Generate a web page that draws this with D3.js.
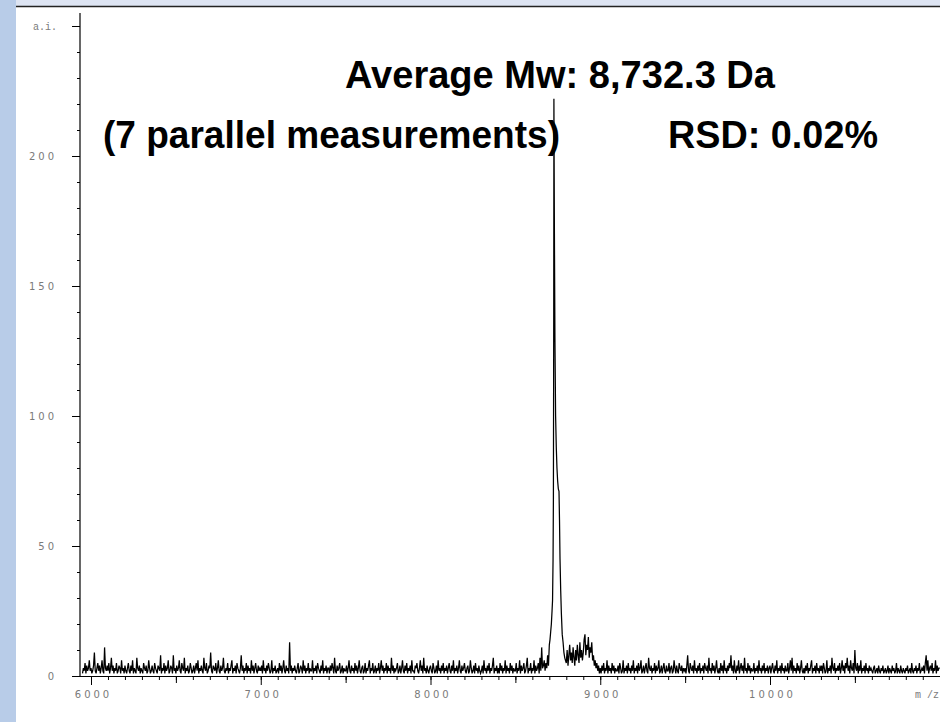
<!DOCTYPE html>
<html>
<head>
<meta charset="utf-8">
<script src="https://cdn.jsdelivr.net/npm/d3@7"></script>
<style>
  body { margin: 0; background: #ffffff; }
  svg { display: block; }
  .tick text { font-family: 'DejaVu Sans', sans-serif; font-size: 10px; fill: #7a7a7a; letter-spacing: 3px; }
  .heading { font-family: 'Liberation Sans', Arial, sans-serif; font-weight: bold; font-size: 38px; fill: #000; }
</style>
</head>
<body>
<svg width="940" height="722"></svg>
<script>
// spectrum data: baseline noise on a 5 Da grid, peak region with explicit m/z
var noiseAStart = 5950;
var noiseAStep = 5;
var noiseA = [
    1,3,2,5,1,4,2,3,6,2,
    3,1,2,4,9,2,1,3,5,2,4,1,3,6,2,1,11,3,2,4,
    2,5,1,3,7,2,4,1,3,2,5,1,2,4,3,1,6,2,3,1,
    4,2,1,3,5,2,1,4,2,6,1,3,2,1,7,3,2,4,1,3,
    2,1,5,3,2,4,1,2,6,3,1,2,4,2,1,5,3,2,1,4,
    3,2,8,1,3,2,5,1,4,2,3,6,1,2,4,3,1,8,2,3,
    1,4,2,3,6,2,1,5,3,2,7,1,3,2,4,1,2,5,3,1,
    2,4,1,3,5,2,6,1,3,2,4,2,1,7,3,2,5,1,2,4,
    3,9,2,1,4,3,2,5,1,3,6,2,1,4,2,3,7,2,1,3,
    2,5,1,3,2,4,6,1,3,2,4,1,5,3,2,1,3,8,2,4,
    1,3,2,5,1,4,2,3,1,6,2,4,1,3,5,2,1,4,2,3,
    2,4,1,6,2,3,1,4,2,5,3,1,2,6,1,3,2,4,1,2,
    3,1,5,2,4,1,3,6,2,1,4,2,3,1,13,2,4,1,3,2,
    4,2,1,3,5,1,2,4,3,1,6,2,4,1,3,2,5,1,3,2,
    2,6,1,3,2,4,1,5,3,2,1,4,2,6,1,3,2,4,1,3,
    3,1,4,2,5,3,1,7,2,1,4,2,3,5,1,2,4,1,3,2,
    2,4,1,3,6,2,1,4,2,3,1,5,2,4,1,3,6,2,1,3,
    4,1,2,5,1,3,2,4,6,1,3,2,5,1,2,4,1,3,2,5,
    1,3,6,2,4,1,3,2,5,1,4,2,3,1,7,2,4,1,3,2,
    3,5,1,2,4,1,3,6,2,1,4,2,5,1,3,2,4,1,6,2,
    2,1,4,3,5,2,1,3,6,2,4,1,7,2,3,1,4,2,1,3,
    4,2,1,5,3,1,2,4,1,6,2,3,1,4,2,5,1,3,2,4,
    1,3,5,2,1,4,2,6,1,3,2,4,1,3,6,2,1,4,2,3,
    5,2,1,3,4,1,2,6,3,1,2,4,1,5,2,3,1,4,2,1,
    2,4,1,6,2,3,1,4,2,5,1,3,2,4,7,1,3,2,4,1,
    3,1,5,2,4,1,3,2,6,1,4,2,3,1,5,2,4,1,3,2,
    2,5,1,3,2,6,1,4,2,3,5,1,2,4,7,1,3,2,5,1,
    3,2,6,1,4,2,3,5,1,7,2,11,3,4,6,2,5,3,8,4
];

var peakMz = [8700, 8704, 8708, 8712, 8716, 8719, 8722, 8724, 8726, 8727, 8730, 8733, 8737, 8741, 8745, 8749, 8753, 8757, 8760, 8763, 8767, 8771, 8776, 8781, 8786, 8791];
var peakAi = [12, 14, 17, 20, 25, 29, 45, 68, 140, 222, 170, 130, 100, 88, 80, 75, 72, 71, 60, 45, 33, 24, 16, 13, 9, 7];

var noiseBStart = 8795;
var noiseBStep = 5;
var noiseB = [
    6,
    5,10,4,8,12,6,9,5,11,7,4,10,6,12,8,5,13,7,10,6,
    9,14,16,8,12,10,15,7,11,9,13,6,8,4,6,3,5,2,4,1,
    3,1,4,2,5,1,3,2,6,1,4,2,3,1,5,2,4,1,3,2,
    2,4,1,5,3,1,2,6,1,3,2,4,1,5,2,3,1,4,2,6,
    1,3,2,4,1,5,2,3,6,1,2,4,1,3,5,2,1,7,3,2,
    4,1,3,2,5,1,4,2,3,6,1,2,4,1,3,5,2,1,4,2,
    2,5,1,3,4,1,2,6,3,1,4,2,1,5,3,2,4,1,3,2,
    3,1,4,8,2,1,5,3,2,4,1,6,2,3,1,4,2,5,1,3,
    2,4,1,5,3,2,4,1,7,2,3,1,5,2,4,1,3,6,2,1,
    3,1,5,2,4,1,6,2,3,1,4,2,5,3,8,2,4,1,6,2,
    1,4,2,6,1,3,5,2,4,1,7,2,3,1,5,2,4,1,3,2,
    2,5,1,3,2,4,1,6,2,3,1,4,2,5,1,3,2,4,1,3,
    4,1,3,5,2,1,4,2,6,1,3,2,4,1,5,2,3,1,4,2,
    2,5,1,3,6,2,7,1,4,2,3,1,5,2,4,1,3,6,2,1,
    3,1,4,2,5,1,3,2,4,6,1,3,2,4,1,5,2,3,1,4,
    2,4,1,5,3,1,2,6,1,3,2,4,1,7,3,2,5,1,3,2,
    4,2,5,1,3,6,2,4,1,5,3,7,2,4,1,6,3,2,5,1,
    10,3,2,5,1,4,2,6,1,3,2,4,1,5,2,3,1,4,2,3,
    2,1,3,4,1,2,3,1,4,2,1,3,2,4,1,2,3,1,2,4,
    1,3,2,1,4,2,3,1,2,5,1,3,2,1,4,2,1,3,2,1,
    3,2,4,1,2,3,1,5,2,1,3,2,4,1,3,2,5,1,2,3,
    2,4,1,5,8,2,6,1,3,4,2,5,1,3,2,6,1,4,2,3,
    3
];

var yMajor = [0, 50, 100, 150, 200, 250];
var xMajor = [6000, 7000, 8000, 9000, 10000];

var svg = d3.select('svg');
var svgWidth = +svg.attr('width');
var svgHeight = +svg.attr('height');

// frame around the plot window
svg.append('rect').attr('x', 0).attr('y', 0).attr('width', svgWidth).attr('height', svgHeight).style('fill', '#ffffff');
svg.append('rect').attr('x', 0).attr('y', 0).attr('width', svgWidth).attr('height', 6).style('fill', '#dde4f2');
svg.append('rect').attr('x', 0).attr('y', 0).attr('width', 16).attr('height', svgHeight).style('fill', '#b8cce8');
svg.append('line').attr('x1', 16).attr('x2', svgWidth).attr('y1', 6.5).attr('y2', 6.5)
    .style('stroke', '#222').style('stroke-width', 1.5);

var x = d3.scaleLinear().domain([6000, 10000]).range([91, 770]);
var y = d3.scaleLinear().domain([0, 250]).range([676, 26]);

// build the points
var pts = [];
noiseA.forEach(function(v, i){ pts.push([noiseAStart + i*noiseAStep, v]); });
pts = pts.filter(function(p){ return p[0] < peakMz[0]; });
peakMz.forEach(function(m, i){ pts.push([m, peakAi[i]]); });
noiseB.forEach(function(v, i){ pts.push([noiseBStart + i*noiseBStep, v]); });

// y axis
var yAxisMinor = d3.axisLeft(y).tickValues(d3.range(0, 251, 10)).tickSize(3).tickFormat('');
var yAxisMajor = d3.axisLeft(y).tickValues(yMajor).tickSize(8).tickPadding(15)
    .tickFormat(function(d){ return d === 250 ? '' : d; });

svg.append('g').attr('transform', 'translate(80,0)').call(yAxisMinor)
    .call(function(g){ g.select('.domain').remove(); });
var gy = svg.append('g').attr('transform', 'translate(80,0)').call(yAxisMajor);
gy.select('.domain').remove();
svg.append('line').attr('x1', 80).attr('x2', 80).attr('y1', 13).attr('y2', 676.5)
    .style('stroke', '#000').style('stroke-width', 1.2);

svg.append('text')
    .attr('x', 33).attr('y', y(250) + 4)
    .style('font-family', "'Liberation Mono', monospace")
    .style('font-size', '10px')
    .style('fill', '#7a7a7a')
    .text('a.i.');

// x axis
var xAxisMinor = d3.axisBottom(x).tickValues(d3.range(6000, 11000, 100)).tickSize(4).tickFormat('');
var xAxisMid = d3.axisBottom(x).tickValues(d3.range(6500, 11000, 1000)).tickSize(7).tickFormat('');
var xAxisMajor = d3.axisBottom(x).tickValues(xMajor).tickSize(9).tickPadding(6).tickFormat(function(d){ return d; });

[xAxisMinor, xAxisMid].forEach(function(ax){
    svg.append('g').attr('transform', 'translate(0,676)').call(ax)
        .call(function(g){ g.select('.domain').remove(); });
});
var gx = svg.append('g').attr('transform', 'translate(0,676)').call(xAxisMajor);
gx.select('.domain').remove();
gx.selectAll('.tick text').attr('dx', '2px');
svg.append('line').attr('x1', 72).attr('x2', svgWidth).attr('y1', 676.5).attr('y2', 676.5)
    .style('stroke', '#000').style('stroke-width', 1.2);

svg.append('text')
    .attr('x', 915).attr('y', 698)
    .style('font-family', "'Liberation Mono', monospace")
    .style('font-size', '10px')
    .style('fill', '#7a7a7a')
    .text('m /z');

// spectrum trace
var line = d3.line().x(function(d){ return x(d[0]); }).y(function(d){ return y(d[1]); });
svg.append('path')
    .datum(pts)
    .attr('d', line)
    .style('fill', 'none')
    .style('stroke', '#000')
    .style('stroke-width', 1.25);

// annotations
svg.append('text').attr('class', 'heading')
    .attr('x', 345).attr('y', 88)
    .attr('textLength', 430).attr('lengthAdjust', 'spacingAndGlyphs')
    .text('Average Mw: 8,732.3 Da');
svg.append('text').attr('class', 'heading')
    .attr('x', 103).attr('y', 148)
    .attr('textLength', 457).attr('lengthAdjust', 'spacingAndGlyphs')
    .text('(7 parallel measurements)');
svg.append('text').attr('class', 'heading')
    .attr('x', 668).attr('y', 148)
    .attr('textLength', 210).attr('lengthAdjust', 'spacingAndGlyphs')
    .text('RSD: 0.02%');
</script>
</body>
</html>
